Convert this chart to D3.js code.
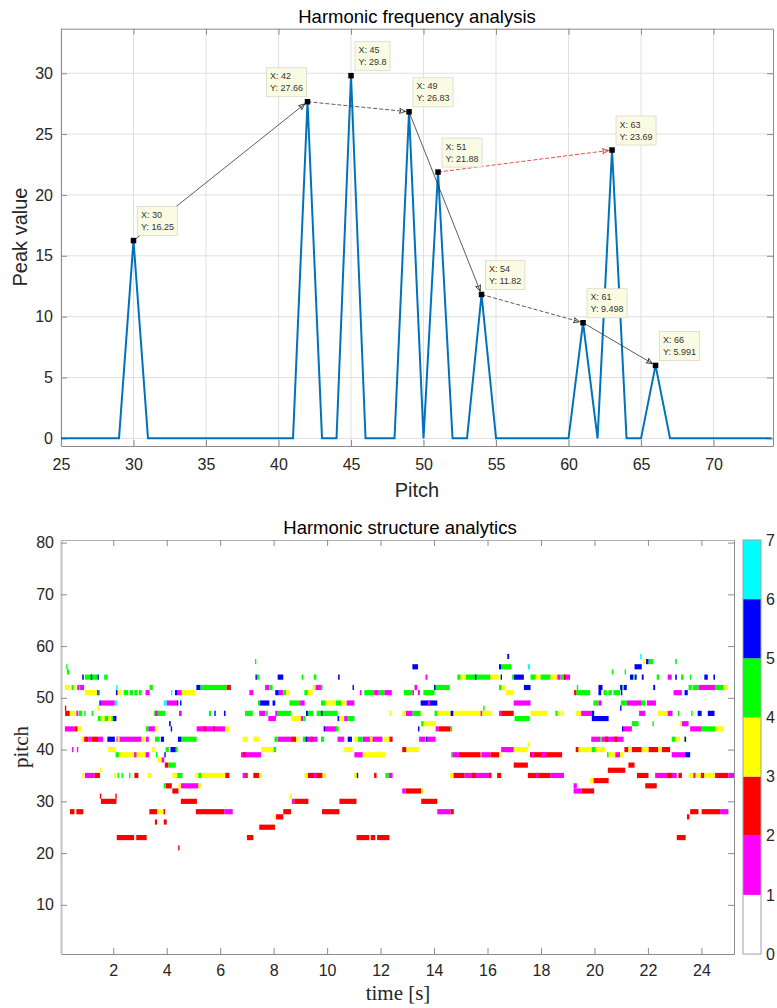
<!DOCTYPE html>
<html><head><meta charset="utf-8">
<script src="https://cdn.jsdelivr.net/npm/d3@7"></script>
<style>
body{margin:0;background:#fff;}
svg{display:block;}
</style>
</head><body>
<svg id="c" width="777" height="1008"></svg>
<script>
// ---------- TOP CHART DATA ----------
const pitches = [25,26,27,28,29,30,31,32,33,34,35,36,37,38,39,40,41,42,43,44,45,46,47,48,49,50,51,52,53,54,55,56,57,58,59,60,61,62,63,64,65,66,67,68,69,70,71,72,73,74];
const peakValues = [0,0,0,0,0,16.25,0,0,0,0,0,0,0,0,0,0,0,27.66,0,0,29.8,0,0,0,26.83,0,21.88,0,0,11.82,0,0,0,0,0,0,9.498,0,23.69,0,0,5.991,0,0,0,0,0,0,0,0];
const tipPitches = [30,42,45,49,51,54,61,63,66];
const tipValues = [16.25,27.66,29.8,26.83,21.88,11.82,9.498,23.69,5.991];
const arrowFrom = [30,42,49,54,61,51];
const arrowTo   = [42,49,54,61,66,63];
const arrowKind = ["black","black","black","black","black","red"];
const topXTicks = [25,30,35,40,45,50,55,60,65,70];
const topYTicks = [0,5,10,15,20,25,30];

// ---------- BOTTOM CHART DATA: [pitch, tStart, tEnd] per level ----------
const magentaSegs = [
[52,0.65,0.91],[51,3.21,3.36],[51,4.39,4.56],[49,1.53,2.06],[49,4.0,4.38],[47,0.62,0.69],[47,3.56,3.66],[47,4.46,4.56],
[44,0.19,0.56],[44,3.31,3.56],[44,5.12,6.19],[42,1.06,1.18],[42,1.43,1.62],[42,2.12,3.06],[42,3.22,3.33],[40,0.46,0.51],
[40,0.64,0.69],[39,2.78,2.87],[39,3.21,3.34],[38,3.81,3.91],[35,0.94,1.31],[33,4.53,5.19],[28,6.15,6.47],
[52,7.68,7.84],[52,9.56,9.77],[51,7.09,7.24],[51,8.19,8.36],[51,11.23,11.28],[51,11.76,11.93],[51,12.14,12.42],
[49,8.99,9.16],[49,10.73,11.02],[47,7.46,7.69],[47,8.06,8.15],[46,7.80,8.09],[46,9.02,9.11],[46,10.64,10.77],
[44,9.92,10.33],[42,8.15,8.65],[42,9.27,9.64],[42,10.39,10.64],[42,11.33,12.07],[39,6.78,7.53],[39,11.02,11.33],
[35,6.84,6.97],[35,9.5,9.6],[35,12.3,12.45],[30,8.68,8.77],
[54,13.68,13.75],[54,18.61,18.73],[52,13.27,13.37],[51,13.19,13.25],[51,13.4,13.47],[49,16.98,17.61],[49,13.77,13.85],
[47,12.94,13.19],[47,15.74,15.8],[47,16.43,16.51],[44,14.06,14.16],[42,13.44,13.68],[42,13.75,14.06],[40,16.51,16.98],
[39,14.68,14.93],[39,15.77,16.11],[39,17.65,17.75],[39,18.0,18.2],[35,15.14,16.11],[35,17.8,17.9],[35,18.36,18.86],
[32,12.81,12.94],[28,14.12,14.62],
[54,18.84,19.09],[54,22.74,22.89],[52,23.89,24.51],[51,22.96,23.27],[49,20.15,20.27],[49,21.21,21.77],[49,21.96,22.3],
[47,19.5,19.9],[47,21.67,21.9],[47,22.74,22.92],[45,23.27,23.52],[44,21.09,21.4],[44,23.58,24.01],[42,19.88,20.21],
[42,20.27,21.09],[39,20.78,20.96],[39,22.89,23.39],[35,22.27,23.08],[35,23.7,23.78],[35,25.01,25.22],[33,19.22,19.34],
[32,19.22,19.53],[28,24.7,25.01]
];
const redSegs = [
[52,6.25,6.40],[48,0.19,0.22],[47,0.20,0.37],[44,0.56,0.66],[44,5.4,5.45],[44,5.75,5.8],[42,0.91,1.06],[42,1.18,1.43],
[37,3.93,4.06],[35,1.31,1.5],[35,2.79,2.94],[35,6.19,6.34],[33,3.96,4.19],[32,4.21,4.44],[31,1.50,1.53],[31,2.08,2.11],
[30,1.54,2.12],[30,4.53,5.13],[28,0.38,0.55],[28,0.62,0.88],[28,3.35,3.65],[28,3.88,3.94],[28,5.09,6.15],[26,3.56,3.64],
[26,3.89,4.0],[23,2.13,2.78],[23,2.86,3.25],[21,4.43,4.48],
[42,8.65,8.84],[42,9.4,9.45],[42,12.33,12.45],[39,6.86,6.95],[35,6.22,6.32],[35,6.97,7.03],[35,7.24,7.46],[35,9.27,9.83],
[35,11.76,11.85],[30,8.77,9.3],[30,10.46,11.1],[28,8.36,8.65],[28,9.81,10.46],[27,8.09,8.36],[25,7.46,8.05],[23,7.0,7.24],
[23,11.1,11.58],[23,11.63,11.8],[23,11.87,12.33],
[54,18.86,18.92],[44,14.16,14.62],[40,12.81,12.96],[47,16.51,16.98],[39,14.93,15.74],[39,16.11,16.43],[39,17.59,18.79],
[37,16.98,17.51],[35,14.72,15.14],[35,15.42,15.55],[35,16.05,16.15],[35,16.36,16.51],[35,17.51,18.36],[32,12.94,13.52],
[30,13.52,14.12],[28,14.62,14.74],
[51,19.24,19.32],[42,20.4,20.5],[42,20.75,20.85],[40,19.3,19.4],[40,21.12,21.27],[40,21.4,21.77],[40,22.02,22.39],
[40,22.52,22.83],[37,21.27,21.5],[36,20.5,21.15],[35,21.59,22.02],[35,22.71,22.89],[35,23.14,23.27],[35,23.98,24.1],
[35,24.51,25.01],[34,19.96,20.53],[33,21.9,22.33],[32,19.53,19.99],[28,23.58,23.89],[28,24.01,24.7],[27,23.46,23.55],
[23,23.08,23.41]
];
const yellowSegs = [
[52,0.19,0.39],[52,0.50,0.59],[51,0.94,1.40],[51,2.16,2.30],[51,4.56,5.06],[48,1.41,1.50],[47,0.37,0.59],[47,3.48,3.53],
[46,1.53,1.68],[46,1.81,1.93],[44,0.66,0.81],[44,3.56,3.66],[44,6.19,6.34],[42,0.81,0.91],[42,2.16,2.24],[42,3.06,3.18],
[40,1.81,2.09],[40,3.43,3.56],[39,2.21,3.21],[38,3.66,3.81],[36,1.5,1.56],[35,0.84,0.91],[35,2.04,2.12],[35,3.29,3.41],
[35,4.21,4.39],[35,5.09,5.19],[35,5.29,6.19],[33,4.44,4.53],[33,5.19,5.29],[28,3.65,3.88],
[51,8.46,8.61],[51,9.27,9.46],[52,9.46,9.56],[49,9.94,10.33],[49,10.52,10.71],[47,12.33,12.4],[46,8.65,9.02],
[46,10.45,10.64],[44,6.22,6.32],[42,6.84,7.03],[42,7.24,7.46],[42,8.84,8.94],[42,11.02,11.14],[42,11.6,11.7],
[42,12.13,12.33],[40,7.53,8.09],[40,10.64,10.95],[39,11.33,12.2],[35,7.46,7.55],[35,9.15,9.27],[35,9.83,9.96],
[35,11.0,11.11],[31,8.59,8.68],[27,8.03,8.09],
[54,14.99,15.18],[54,16.11,16.43],[54,17.8,17.98],[54,18.36,18.61],[52,16.51,16.67],[51,16.7,16.98],[47,12.81,12.94],
[47,13.5,13.56],[47,14.12,14.62],[47,14.72,16.18],[47,17.61,18.23],[47,18.61,18.73],[45,13.6,14.06],[41,17.51,17.59],
[40,12.96,13.43],[40,16.98,17.51],[39,16.43,16.49],[35,14.59,14.72],[32,13.52,13.6],
[57,21.83,21.9],[52,24.83,25.0],[47,18.78,18.84],[47,19.3,19.5],[47,22.37,22.74],[45,23.2,23.27],[44,24.51,24.83],
[42,23.02,23.2],[42,23.33,23.43],[40,19.4,19.9],[40,20.03,20.4],[40,21.27,21.4],[40,21.77,22.02],[40,22.39,22.52],
[39,20.53,20.78],[39,20.96,21.09],[35,23.52,24.51],[34,19.84,19.96]
];
const greenSegs = [
[56,0.24,0.29],[55,0.27,0.35],[54,0.94,1.41],[54,1.66,1.79],[52,0.44,0.50],[52,0.71,0.76],[52,3.36,3.48],[52,5.26,6.25],
[51,1.45,1.51],[51,2.39,2.56],[51,2.61,2.74],[51,2.79,2.91],[51,2.96,3.06],[47,0.71,0.84],[47,0.91,0.96],[47,1.19,1.24],
[47,3.53,3.94],[47,5.58,5.66],[46,1.43,1.53],[46,1.68,1.81],[46,1.93,1.99],[44,3.22,3.31],[42,3.56,3.74],[42,4.55,5.12],
[40,3.96,4.08],[40,4.34,4.41],[39,2.09,2.21],[39,3.6,3.64],[37,4.06,4.34],[35,2.16,2.21],[35,2.31,2.35],[35,2.59,2.64],
[35,4.39,4.59],[35,5.19,5.29],[33,3.89,3.96],
[57,7.3,7.35],[54,7.36,7.46],[54,9.05,9.11],[54,9.5,9.6],[52,7.84,7.96],[52,9.77,9.83],[51,8.36,8.46],[51,9.15,9.27],
[51,11.39,11.76],[51,11.93,12.14],[49,7.41,7.49],[49,8.59,8.99],[49,9.77,9.94],[49,10.33,10.52],[47,6.93,7.22],
[47,7.69,7.78],[47,8.15,8.65],[47,9.28,9.48],[47,9.61,10.39],[46,9.11,9.19],[46,10.77,11.02],[44,10.33,10.43],
[42,8.03,8.15],[42,9.09,9.19],[42,9.77,9.89],[42,11.14,11.33],[40,8.0,8.09],[35,12.18,12.3],
[56,16.51,16.89],[54,14.87,14.99],[54,15.18,16.11],[54,16.92,16.98],[54,17.61,17.8],[54,17.98,18.36],[54,18.73,18.86],
[52,14.02,14.59],[52,16.43,16.51],[51,12.87,13.19],[51,13.6,14.02],[48,15.84,15.89],[47,13.19,13.5],[47,14.02,14.12],
[47,18.54,18.61],[46,17.01,17.58],[45,13.52,13.6],[44,14.62,14.68],[39,14.64,14.68],
[57,22.02,22.2],[57,23.02,23.08],[55,20.65,20.71],[55,21.13,21.17],[54,21.45,21.5],[54,22.33,22.42],[54,23.24,23.33],
[54,23.57,23.62],[52,19.34,19.38],[52,21.05,21.1],[52,23.52,23.64],[52,23.67,23.89],[52,24.51,24.83],[51,19.32,19.84],
[51,20.34,20.46],[51,20.52,20.65],[51,20.71,20.96],[49,19.96,20.15],[49,20.99,21.21],[49,21.77,21.9],[47,23.12,23.17],
[47,23.62,23.67],[45,21.4,21.65],[45,22.17,22.21],[44,24.01,24.51],[42,20.21,20.27],[42,22.89,23.02],[40,19.9,20.03],
[39,20.47,20.53]
];
const blueSegs = [
[54,0.84,0.90],[54,1.16,1.20],[54,1.41,1.45],[52,5.11,5.26],[51,1.40,1.45],[51,2.10,2.16],[51,4.31,4.39],[49,1.48,1.53],
[49,4.38,4.42],[49,4.50,4.53],[47,5.78,5.82],[47,6.14,6.2],[46,1.99,2.12],[45,4.09,4.15],[44,4.15,4.2],[42,1.78,2.06],
[42,3.78,3.9],[42,4.42,4.55],[40,4.14,4.34],[39,3.91,3.96],
[54,7.32,7.36],[54,8.15,8.36],[54,10.41,10.47],[52,10.95,11.0],[51,8.06,8.19],[49,7.49,7.84],[49,7.96,8.06],
[47,9.21,9.28],[47,9.77,9.83],[46,10.39,10.45],[44,9.87,9.92],[42,9.19,9.27],[42,10.77,10.93],[35,11.11,11.14],
[58,16.74,16.81],[56,13.19,13.4],[56,16.43,16.51],[54,15.53,15.58],[54,16.49,16.54],[54,16.98,17.36],[52,14.0,14.03],
[52,17.36,17.61],[49,13.5,14.12],[47,14.62,14.72],[44,13.4,13.44],[42,13.7,13.75],
[57,21.93,22.02],[56,21.5,21.77],[54,21.33,21.45],[54,21.5,21.58],[54,21.77,21.84],[54,23.02,23.08],[54,24.11,24.24],
[54,24.45,24.51],[52,20.15,20.3],[52,20.96,21.05],[52,21.1,21.21],[52,22.2,22.27],[51,20.15,20.25],[51,20.99,21.03],
[51,23.37,23.49],[48,20.96,21.0],[47,19.9,19.99],[47,23.86,24.01],[47,24.24,24.49],[46,19.9,20.53],[44,21.03,21.09],
[42,23.37,23.43],[39,23.39,23.58]
];
const cyanSegs = [
[52,2.11,2.14],[51,4.16,4.21],[49,2.06,2.14],[49,3.89,4.0],[56,17.51,17.59],[58,21.71,21.75]
];
const levelColors = ["#ffffff","#ff00ff","#ff0000","#ffff00","#00ff00","#0000ff","#00ffff"];
const botXTicks = [2,4,6,8,10,12,14,16,18,20,22,24];
const botYTicks = [10,20,30,40,50,60,70,80];
const cbTicks = [0,1,2,3,4,5,6,7];

// ---------- DRAW ----------
(function(){
const SANS = '"Liberation Sans",Arial,Helvetica,sans-serif';
const SERIF = '"Liberation Serif","DejaVu Serif",serif';
const svg = d3.select("#c").style("font-family", SANS);
const axisGray = "#8c8c8c";
const labelColor = "#262626";

// ===== TOP =====
const xT = d3.scaleLinear().domain([25, 74.1]).range([61, 773]);
const yT = d3.scaleLinear().domain([-0.63, 33.66]).range([446, 28.7]);
const gTop = svg.append("g");
gTop.append("clipPath").attr("id","clipT").append("rect")
  .attr("x",61).attr("y",28.7).attr("width",712).attr("height",446-28.7);
gTop.selectAll(".gx").data(topXTicks).join("line")
  .attr("x1",d=>xT(d)).attr("x2",d=>xT(d)).attr("y1",446).attr("y2",28.7)
  .attr("stroke","#e0e0e0").attr("stroke-width",1);
gTop.selectAll(".gy").data(topYTicks).join("line")
  .attr("y1",d=>yT(d)).attr("y2",d=>yT(d)).attr("x1",61).attr("x2",773)
  .attr("stroke","#e0e0e0").attr("stroke-width",1);

function styleAxis(g, fs){
  g.select(".domain").attr("stroke",axisGray);
  g.selectAll(".tick line").attr("stroke",axisGray);
  g.selectAll(".tick text").attr("fill",labelColor).attr("font-size",fs)
    .style("font-family",SANS);
}
const axB = gTop.append("g").attr("transform","translate(0,446)")
  .call(d3.axisBottom(xT).tickValues(topXTicks).tickSizeInner(-6).tickSizeOuter(0).tickPadding(13));
styleAxis(axB,"16px");
const axL = gTop.append("g").attr("transform","translate(61,0)")
  .call(d3.axisLeft(yT).tickValues(topYTicks).tickSizeInner(-6).tickSizeOuter(0).tickPadding(8));
styleAxis(axL,"16px");
const axTp = gTop.append("g").attr("transform","translate(0,28.7)")
  .call(d3.axisTop(xT).tickValues(topXTicks).tickSizeInner(-6).tickSizeOuter(0).tickFormat(""));
styleAxis(axTp,"16px");
const axR = gTop.append("g").attr("transform","translate(773,0)")
  .call(d3.axisRight(yT).tickValues(topYTicks).tickSizeInner(-6).tickSizeOuter(0).tickFormat(""));
styleAxis(axR,"16px");

const lineData = pitches.map((p,i)=>({p, v:peakValues[i]}));
gTop.append("path").datum(lineData)
  .attr("clip-path","url(#clipT)")
  .attr("fill","none").attr("stroke","#0072BD").attr("stroke-width",2)
  .attr("stroke-linejoin","miter")
  .attr("d", d3.line().x(d=>xT(d.p)).y(d=>yT(d.v)));

const defs = svg.append("defs");
[["black","#222"],["red","#e0201a"]].forEach(([k,c])=>{
  defs.append("marker").attr("id","ah-"+k).attr("viewBox","-10 -6 12 12")
    .attr("refX",0).attr("refY",0).attr("markerWidth",9).attr("markerHeight",9)
    .attr("markerUnits","userSpaceOnUse").attr("orient","auto")
    .append("path").attr("d","M-8,-3.5 L0,0 L-8,3.5 M-8,-3.5 Q-5,0 -8,3.5")
    .attr("fill","none").attr("stroke",c).attr("stroke-width",1);
});
const valueOf = p => tipValues[tipPitches.indexOf(p)];
arrowFrom.forEach((f,i)=>{
  const t = arrowTo[i];
  const x1 = xT(f), y1 = yT(valueOf(f)), x2 = xT(t), y2 = yT(valueOf(t));
  const L = Math.hypot(x2-x1,y2-y1), sh = 3.5;
  const ex = x2 - (x2-x1)/L*sh, ey = y2 - (y2-y1)/L*sh;
  const red = arrowKind[i]==="red";
  gTop.append("line").attr("x1",x1).attr("y1",y1).attr("x2",ex).attr("y2",ey)
    .attr("stroke", red ? "#e0201a" : "#333").attr("stroke-width",0.8)
    .attr("stroke-dasharray", (red || i===1 || i===3) ? "4,2" : null)
    .attr("marker-end","url(#ah-"+arrowKind[i]+")");
});

gTop.selectAll(".mk").data(tipPitches).join("rect")
  .attr("x",d=>xT(d)-2.75).attr("y",(d,i)=>yT(tipValues[i])-2.75)
  .attr("width",5.5).attr("height",5.5).attr("fill","#000");

const fmt = d3.format(".4~g");
tipPitches.forEach((p,i)=>{
  const mx = xT(p), my = yT(tipValues[i]);
  const g = gTop.append("g");
  const t1 = g.append("text").text("X: "+p).attr("font-size","9px").attr("fill","#333");
  const t2 = g.append("text").text("Y: "+fmt(tipValues[i])).attr("font-size","9px").attr("fill","#333");
  const w = Math.max(t1.node().getComputedTextLength(), t2.node().getComputedTextLength()) + 7;
  const h = 29;
  const leftSide = (p === 42);
  const bx = leftSide ? mx - 1 - w : mx + 4;
  const by = my - 5 - h;
  g.insert("rect","text").attr("x",bx).attr("y",by).attr("width",w).attr("height",h)
    .attr("fill","#fbfbe4").attr("stroke","#d8d8cc").attr("stroke-width",0.8);
  t1.attr("x",bx+3.5).attr("y",by+11.5);
  t2.attr("x",bx+3.5).attr("y",by+23.5);
});

svg.append("text").attr("x",417).attr("y",22.5).attr("text-anchor","middle")
  .attr("font-size","18.5px").attr("fill","#000").text("Harmonic frequency analysis");
svg.append("text").attr("x",417).attr("y",497).attr("text-anchor","middle")
  .attr("font-size","20px").attr("fill",labelColor).text("Pitch");
svg.append("text").attr("transform","translate(27,237) rotate(-90)").attr("text-anchor","middle")
  .attr("font-size","20px").attr("fill",labelColor).text("Peak value");

// ===== BOTTOM =====
const xB = d3.scaleLinear().domain([0.046, 25.22]).range([61, 734]);
const yB = d3.scaleLinear().domain([0.5, 80.5]).range([954, 540]);
const gBot = svg.append("g");
gBot.append("clipPath").attr("id","clipB").append("rect")
  .attr("x",61).attr("y",540).attr("width",734-61).attr("height",954-540);
const cells = [magentaSegs, redSegs, yellowSegs, greenSegs, blueSegs, cyanSegs]
  .flatMap((arr,i)=>arr.map(s=>({p:s[0], t0:s[1], t1:s[2], lv:i+1})))
  .sort((a,b)=>(b.t1-b.t0)-(a.t1-a.t0));
gBot.append("g").attr("clip-path","url(#clipB)")
  .selectAll("rect").data(cells).join("rect")
  .attr("x",d=>xB(d.t0)).attr("width",d=>Math.max(xB(d.t1)-xB(d.t0),1.4))
  .attr("y",d=>yB(d.p+0.5)).attr("height",d=>yB(d.p-0.5)-yB(d.p+0.5))
  .attr("fill",d=>levelColors[d.lv]);

const bB = gBot.append("g").attr("transform","translate(0,954)")
  .call(d3.axisBottom(xB).tickValues(botXTicks).tickSizeInner(-6).tickSizeOuter(0).tickPadding(11));
styleAxis(bB,"16px");
const bL = gBot.append("g").attr("transform","translate(61,0)")
  .call(d3.axisLeft(yB).tickValues(botYTicks).tickSizeInner(-6).tickSizeOuter(0).tickPadding(7));
styleAxis(bL,"16px");
bL.select(".domain").attr("stroke","#c4c4c4").attr("stroke-width",2);
const bT = gBot.append("g").attr("transform","translate(0,540)")
  .call(d3.axisTop(xB).tickValues(botXTicks).tickSizeInner(-6).tickSizeOuter(0).tickFormat(""));
styleAxis(bT,"16px");
bT.select(".domain").attr("stroke","#b0b0b0");
const bR = gBot.append("g").attr("transform","translate(734,0)")
  .call(d3.axisRight(yB).tickValues(botYTicks).tickSizeInner(-6).tickSizeOuter(0).tickFormat(""));
styleAxis(bR,"16px");

const yC = d3.scaleLinear().domain([0,7]).range([954,540]);
const cb = svg.append("g");
cb.selectAll("rect.cbc").data(levelColors).join("rect")
  .attr("x",743).attr("width",18)
  .attr("y",(d,i)=>yC(i+1)).attr("height",(d,i)=>yC(i)-yC(i+1)).attr("fill",d=>d);
cb.append("rect").attr("x",743).attr("y",540).attr("width",18).attr("height",414)
  .attr("fill","none").attr("stroke","#a0a0a0").attr("stroke-width",1);
cb.selectAll("text").data(cbTicks).join("text")
  .attr("x",766).attr("y",d=>yC(d)).attr("dy","0.36em")
  .attr("font-size","16px").attr("fill",labelColor).text(d=>d);

svg.append("text").attr("x",400).attr("y",533.5).attr("text-anchor","middle")
  .attr("font-size","18.5px").attr("fill","#000").text("Harmonic structure analytics");
svg.append("text").attr("x",398).attr("y",1000).attr("text-anchor","middle")
  .style("font-family",SERIF)
  .attr("font-size","21px").attr("fill",labelColor).text("time [s]");
svg.append("text").attr("transform","translate(28,747) rotate(-90)").attr("text-anchor","middle")
  .style("font-family",SERIF)
  .attr("font-size","21px").attr("fill",labelColor).text("pitch");
})();
</script>
</body></html>
